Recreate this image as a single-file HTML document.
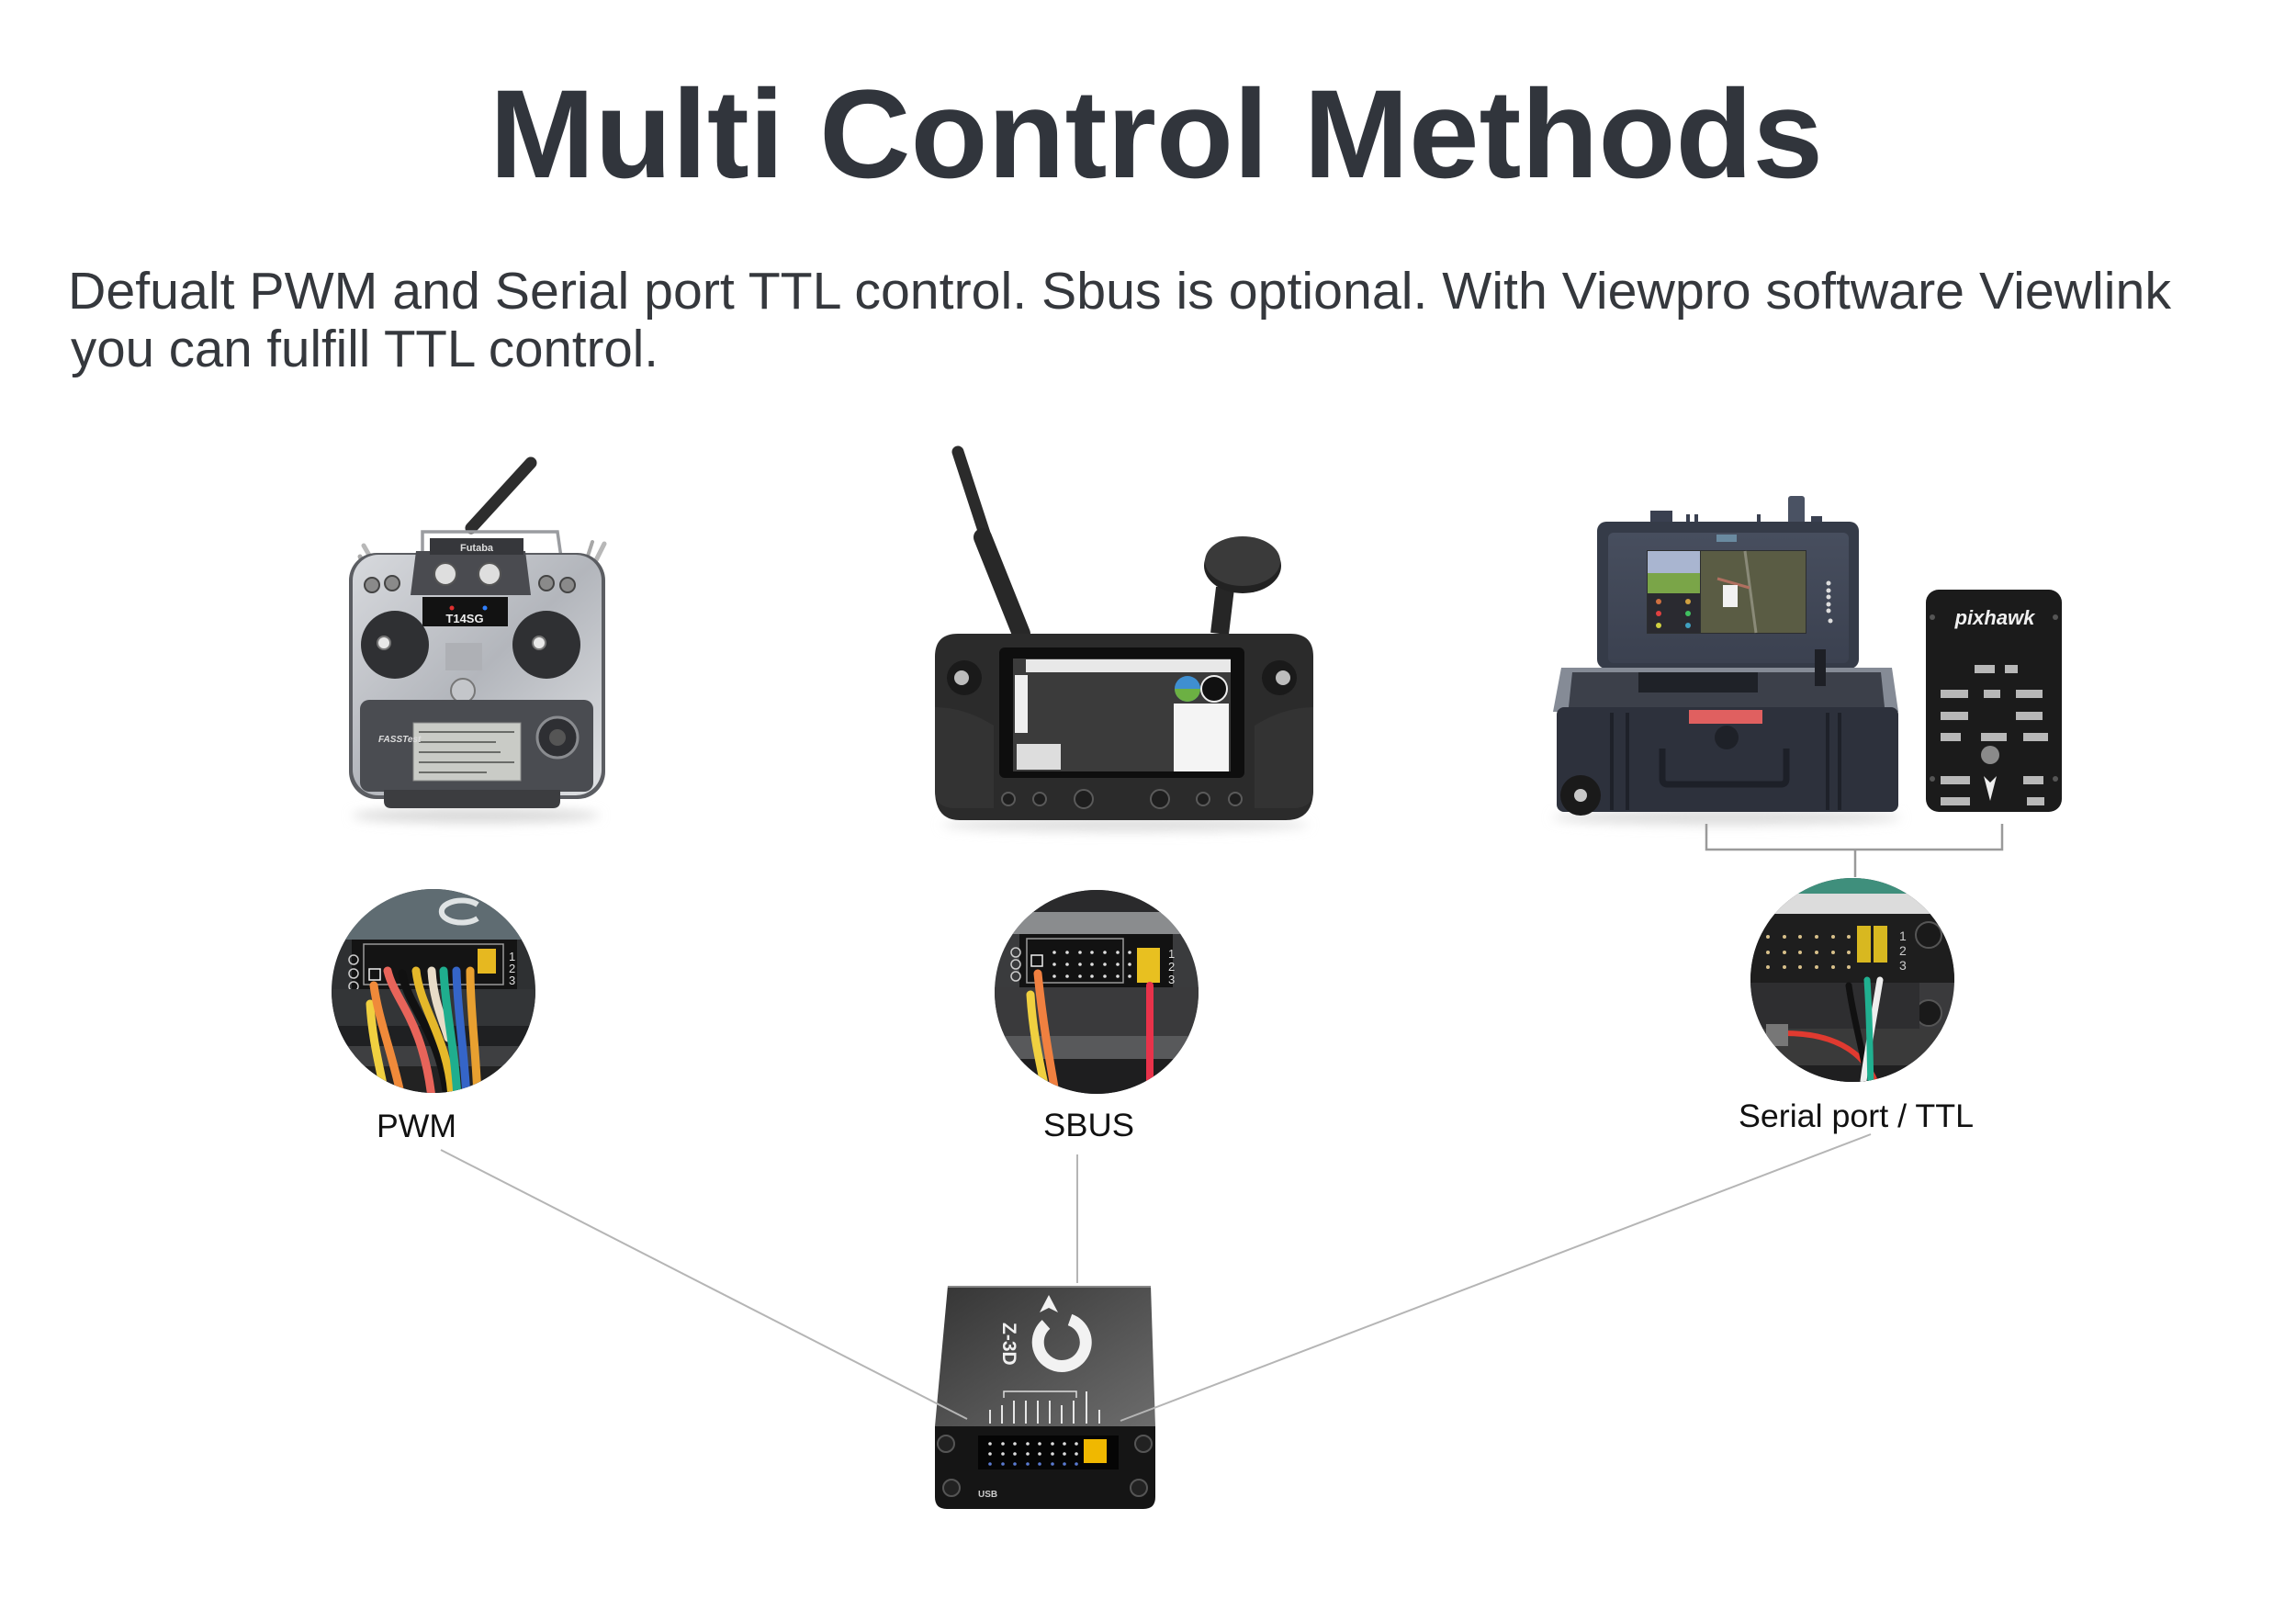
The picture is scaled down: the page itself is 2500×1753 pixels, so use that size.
<!DOCTYPE html>
<html><head><meta charset="utf-8"><style>
html,body{margin:0;padding:0;background:#fff;}
svg{display:block;}
text{font-family:"Liberation Sans",Arial,sans-serif;}
</style></head><body>
<svg xmlns="http://www.w3.org/2000/svg" width="2500" height="1753" viewBox="0 0 2500 1753">
<defs>
<filter id="blur" x="-20%" y="-200%" width="140%" height="500%"><feGaussianBlur stdDeviation="6"/></filter>
<linearGradient id="silver" x1="0" y1="0" x2="1" y2="1"><stop offset="0" stop-color="#d7d9dd"/><stop offset="0.5" stop-color="#b3b6bc"/><stop offset="1" stop-color="#dfe1e4"/></linearGradient>
<linearGradient id="ztop" x1="0" y1="0" x2="1" y2="1"><stop offset="0" stop-color="#353535"/><stop offset="1" stop-color="#6c6c6c"/></linearGradient>
<linearGradient id="lid" x1="0" y1="0" x2="0" y2="1"><stop offset="0" stop-color="#474e5e"/><stop offset="1" stop-color="#3b4150"/></linearGradient>
<clipPath id="c1"><circle cx="472" cy="1079" r="111"/></clipPath>
<clipPath id="c2"><circle cx="1194" cy="1080" r="111"/></clipPath>
<clipPath id="c3"><circle cx="2017" cy="1067" r="111"/></clipPath>
</defs>

<!-- Title -->
<text x="533" y="193" font-size="137" font-weight="bold" fill="#31353c" textLength="1452" lengthAdjust="spacingAndGlyphs">Multi Control Methods</text>
<text x="74" y="336" font-size="57" fill="#35383d" textLength="2290" lengthAdjust="spacingAndGlyphs">Defualt PWM and Serial port TTL control. Sbus is optional. With Viewpro software Viewlink</text>
<text x="77" y="399" font-size="57" fill="#35383d" textLength="640" lengthAdjust="spacingAndGlyphs">you can fulfill TTL control.</text>

<!-- ===== Futaba transmitter ===== -->
<ellipse cx="518" cy="888" rx="135" ry="8" fill="#d8d8d8" filter="url(#blur)"/>
<line x1="513" y1="575" x2="578" y2="504" stroke="#2d2d2d" stroke-width="13" stroke-linecap="round"/>
<path d="M460,612 V579 H607 L612,614" fill="none" stroke="#9a9ca0" stroke-width="3.5"/>
<line x1="392" y1="606" x2="404" y2="632" stroke="#a8a8a8" stroke-width="5" stroke-linecap="round"/>
<line x1="396" y1="594" x2="420" y2="636" stroke="#b8b8b8" stroke-width="5" stroke-linecap="round"/>
<line x1="658" y1="592" x2="640" y2="628" stroke="#b8b8b8" stroke-width="5" stroke-linecap="round"/>
<line x1="645" y1="590" x2="632" y2="630" stroke="#a8a8a8" stroke-width="4" stroke-linecap="round"/>
<rect x="380" y="602" width="279" height="268" rx="30" fill="#5b5d62"/>
<rect x="384" y="604" width="271" height="262" rx="28" fill="url(#silver)"/>
<path d="M453,600 H572 L578,648 H447 Z" fill="#4a4b50"/>
<rect x="468" y="586" width="102" height="18" fill="#36373b"/>
<text x="519" y="600" font-size="11" font-weight="bold" fill="#ddd" text-anchor="middle">Futaba</text>
<circle cx="485" cy="625" r="12" fill="#dedede" stroke="#555" stroke-width="2"/>
<circle cx="533" cy="625" r="12" fill="#dedede" stroke="#555" stroke-width="2"/>
<circle cx="405" cy="637" r="8" fill="#8a8a8a" stroke="#444" stroke-width="2"/>
<circle cx="427" cy="635" r="8" fill="#8a8a8a" stroke="#444" stroke-width="2"/>
<circle cx="595" cy="635" r="8" fill="#8a8a8a" stroke="#444" stroke-width="2"/>
<circle cx="618" cy="637" r="8" fill="#8a8a8a" stroke="#444" stroke-width="2"/>
<rect x="460" y="650" width="93" height="32" fill="#121212"/>
<circle cx="492" cy="662" r="2.5" fill="#e03030"/><circle cx="528" cy="662" r="2.5" fill="#3080ff"/>
<text x="506" y="678" font-size="13" font-weight="bold" fill="#eee" text-anchor="middle">T14SG</text>
<circle cx="430" cy="702" r="37" fill="#2f3033"/>
<circle cx="595" cy="702" r="37" fill="#2f3033"/>
<circle cx="418" cy="700" r="7" fill="#e8e8e8" stroke="#777" stroke-width="2"/>
<circle cx="587" cy="700" r="7" fill="#e8e8e8" stroke="#777" stroke-width="2"/>
<rect x="485" y="700" width="40" height="30" fill="#aeb0b5"/>
<circle cx="504" cy="752" r="13" fill="#c4c6ca" stroke="#777" stroke-width="2"/>
<rect x="392" y="762" width="254" height="100" rx="10" fill="#4a4c51"/>
<rect x="450" y="787" width="117" height="63" fill="#c9cbc6" stroke="#888" stroke-width="1"/>
<g stroke="#6a6c68" stroke-width="2"><line x1="456" y1="797" x2="560" y2="797"/><line x1="456" y1="808" x2="540" y2="808"/><line x1="456" y1="819" x2="545" y2="819"/><line x1="456" y1="830" x2="560" y2="830"/><line x1="456" y1="841" x2="530" y2="841"/></g>
<circle cx="607" cy="803" r="22" fill="#2e2f33" stroke="#8a8c90" stroke-width="3"/>
<circle cx="607" cy="803" r="9" fill="#555"/>
<text x="412" y="808" font-size="10" font-style="italic" font-weight="bold" fill="#ddd">FASSTest</text>
<path d="M418,860 H610 V872 Q610,880 602,880 H426 Q418,880 418,872 Z" fill="#3c3d40"/>

<!-- ===== Smart controller ===== -->
<ellipse cx="1225" cy="898" rx="200" ry="7" fill="#dcdcdc" filter="url(#blur)"/>
<line x1="1043" y1="492" x2="1074" y2="587" stroke="#2b2b2b" stroke-width="13" stroke-linecap="round"/>
<line x1="1070" y1="585" x2="1112" y2="690" stroke="#282828" stroke-width="20" stroke-linecap="round"/>
<line x1="1334" y1="640" x2="1328" y2="690" stroke="#262626" stroke-width="20"/>
<ellipse cx="1353" cy="616" rx="42" ry="30" fill="#222"/>
<ellipse cx="1353" cy="611" rx="41" ry="27" fill="#3a3a3a"/>
<path d="M1043,690 H1405 Q1430,690 1430,715 V860 Q1430,893 1400,893 H1045 Q1018,893 1018,860 V715 Q1018,690 1043,690 Z" fill="#2b2b2b"/>
<path d="M1018,770 Q1050,770 1082,790 V880 H1040 Q1018,880 1018,860 Z" fill="#333"/>
<path d="M1430,770 Q1398,770 1366,790 V880 H1408 Q1430,880 1430,860 Z" fill="#333"/>
<rect x="1088" y="705" width="267" height="142" rx="6" fill="#0e0e0e"/>
<rect x="1103" y="717" width="237" height="123" fill="#3b3b3b"/>
<rect x="1117" y="718" width="223" height="14" fill="#e8e8e8"/>
<rect x="1105" y="735" width="14" height="63" fill="#eeeeee"/>
<rect x="1278" y="766" width="60" height="74" fill="#f4f4f4"/>
<circle cx="1293" cy="750" r="14" fill="#3f8fd0"/><path d="M1279,750 A14,14 0 0 0 1307,750 Z" fill="#6cb043"/>
<circle cx="1322" cy="750" r="14" fill="#111" stroke="#eee" stroke-width="2"/>
<rect x="1107" y="810" width="48" height="28" fill="#dddddd"/>
<circle cx="1050" cy="738" r="19" fill="#1a1a1a"/><circle cx="1047" cy="738" r="8" fill="#bdbdbd"/>
<circle cx="1393" cy="738" r="19" fill="#1a1a1a"/><circle cx="1397" cy="738" r="8" fill="#bdbdbd"/>
<g fill="#1e1e1e" stroke="#5a5a5a" stroke-width="2">
<circle cx="1098" cy="870" r="7"/><circle cx="1132" cy="870" r="7"/><circle cx="1180" cy="870" r="10"/><circle cx="1263" cy="870" r="10"/><circle cx="1310" cy="870" r="7"/><circle cx="1345" cy="870" r="7"/></g>

<!-- ===== Ground station case ===== -->
<ellipse cx="1880" cy="890" rx="190" ry="8" fill="#dcdcdc" filter="url(#blur)"/>
<rect x="1797" y="556" width="24" height="16" fill="#3a4050"/>
<rect x="1947" y="540" width="18" height="32" rx="3" fill="#4a5263"/>
<rect x="1836" y="560" width="4" height="10" fill="#3a4050"/><rect x="1845" y="560" width="4" height="10" fill="#3a4050"/>
<rect x="1913" y="560" width="4" height="10" fill="#3a4050"/><rect x="1972" y="562" width="12" height="8" fill="#3a4050"/>
<rect x="1739" y="568" width="285" height="160" rx="10" fill="#353b48"/>
<rect x="1751" y="580" width="262" height="142" rx="6" fill="url(#lid)"/>
<rect x="1869" y="582" width="22" height="8" fill="#6a8aa0"/>
<rect x="1793" y="599" width="174" height="91" fill="#2c2e30"/>
<rect x="1794" y="600" width="57" height="24" fill="#a9b5d0"/>
<rect x="1794" y="624" width="57" height="22" fill="#7aa548"/>
<rect x="1794" y="646" width="57" height="43" fill="#2a2a30"/>
<g fill="#d07040"><circle cx="1806" cy="655" r="3"/><circle cx="1838" cy="655" r="3" fill="#d0a040"/><circle cx="1806" cy="668" r="3" fill="#e04040"/><circle cx="1838" cy="668" r="3" fill="#40c060"/><circle cx="1806" cy="681" r="3" fill="#d0d040"/><circle cx="1838" cy="681" r="3" fill="#40a0c0"/></g>
<rect x="1852" y="600" width="114" height="89" fill="#5a5c44"/>
<path d="M1900,600 L1912,689" stroke="#8a8a78" stroke-width="3"/>
<path d="M1870,630 L1905,640" stroke="#b07060" stroke-width="3"/>
<rect x="1876" y="637" width="16" height="24" fill="#f2f2f2"/>
<g fill="#ddd"><circle cx="1991" cy="635" r="2.5"/><circle cx="1991" cy="643" r="2.5"/><circle cx="1991" cy="650" r="2.5"/><circle cx="1991" cy="658" r="2.5"/><circle cx="1991" cy="665" r="2.5"/><circle cx="1993" cy="676" r="2.5"/></g>
<path d="M1700,727 H2060 L2067,775 H1691 Z" fill="#858b96"/>
<path d="M1712,732 H2048 L2052,770 H1708 Z" fill="#3c404a"/>
<rect x="1784" y="732" width="130" height="22" fill="#1f2228"/>
<rect x="1976" y="707" width="12" height="40" fill="#1e2026"/>
<rect x="1695" y="770" width="372" height="114" rx="8" fill="#2d313c"/>
<rect x="1839" y="773" width="80" height="15" fill="#e06060"/>
<g stroke="#1e2129" stroke-width="4"><line x1="1755" y1="776" x2="1755" y2="882"/><line x1="1772" y1="776" x2="1772" y2="882"/><line x1="1990" y1="776" x2="1990" y2="882"/><line x1="2003" y1="776" x2="2003" y2="882"/></g>
<path d="M1810,815 V848 Q1810,854 1816,854 H1939 Q1945,854 1945,848 V815" fill="none" stroke="#1d2028" stroke-width="7"/>
<circle cx="1880" cy="803" r="13" fill="#1e2128"/>
<circle cx="1721" cy="866" r="22" fill="#1a1a1a"/><circle cx="1721" cy="866" r="7" fill="#c8c8c8"/>

<!-- ===== Pixhawk ===== -->
<rect x="2097" y="642" width="148" height="242" rx="14" fill="#1b1b1b"/>
<text x="2172" y="680" font-size="22" font-weight="bold" font-style="italic" fill="#f0f0f0" text-anchor="middle">pixhawk</text>
<g fill="#555"><circle cx="2104" cy="672" r="3"/><circle cx="2238" cy="672" r="3"/><circle cx="2104" cy="848" r="3"/><circle cx="2238" cy="848" r="3"/></g>
<g fill="#b8b8b8">
<rect x="2150" y="724" width="22" height="9"/><rect x="2183" y="724" width="14" height="9"/>
<rect x="2113" y="751" width="30" height="9"/><rect x="2160" y="751" width="18" height="9"/><rect x="2195" y="751" width="29" height="9"/>
<rect x="2113" y="775" width="30" height="9"/><rect x="2195" y="775" width="29" height="9"/>
<rect x="2113" y="798" width="22" height="9"/><rect x="2157" y="798" width="28" height="9"/><rect x="2203" y="798" width="27" height="9"/>
<rect x="2113" y="845" width="32" height="9"/><rect x="2203" y="845" width="22" height="9"/>
<rect x="2113" y="868" width="32" height="9"/><rect x="2207" y="868" width="19" height="9"/></g>
<circle cx="2167" cy="822" r="10" fill="#8a8a8a"/>
<path d="M2160,845 L2167,872 L2174,845 L2167,852 Z" fill="#eee"/>

<!-- bracket -->
<path d="M1858,897 V925 H2180 V897 M2020,925 V955" fill="none" stroke="#9a9a9a" stroke-width="2.5"/>

<!-- ===== PWM circle ===== -->
<g clip-path="url(#c1)">
<rect x="350" y="960" width="250" height="240" fill="#2e3032"/>
<rect x="350" y="960" width="250" height="63" fill="#5f6c72"/>
<path d="M520,985 A22,12 0 1 0 520,1000" fill="none" stroke="#dfe3e4" stroke-width="6"/>
<rect x="383" y="1023" width="180" height="54" fill="#141414"/>
<rect x="396" y="1028" width="152" height="44" fill="none" stroke="#9a9a9a" stroke-width="1.5"/>
<rect x="402" y="1055" width="12" height="12" fill="none" stroke="#eee" stroke-width="1.5"/>
<g fill="none" stroke="#ccc" stroke-width="1.5"><circle cx="385" cy="1045" r="5"/><circle cx="385" cy="1060" r="5"/><circle cx="385" cy="1074" r="5"/></g>
<rect x="520" y="1033" width="20" height="27" fill="#e6b820"/>
<g font-size="13" fill="#ddd"><text x="554" y="1046">1</text><text x="554" y="1059">2</text><text x="554" y="1072">3</text><text x="520" y="1090">R T</text><text x="520" y="1104">X X</text></g>
<rect x="350" y="1077" width="250" height="40" fill="#333537"/>
<rect x="350" y="1117" width="250" height="22" fill="#1f2022"/>
<rect x="350" y="1139" width="250" height="22" fill="#3e3f41"/>
<rect x="350" y="1161" width="250" height="40" fill="#222"/>
<g fill="none" stroke-width="9" stroke-linecap="round">
<path d="M470,1057 C472,1090 482,1110 488,1130" stroke="#e8dcc8"/>
<path d="M422,1057 C430,1090 460,1110 470,1195" stroke="#e8645a"/>
<path d="M438,1060 C445,1100 478,1120 487,1195" stroke="#111"/>
<path d="M453,1057 C458,1100 488,1130 492,1195" stroke="#e5b82a"/>
<path d="M483,1057 C485,1100 495,1140 498,1195" stroke="#1fae8e"/>
<path d="M497,1057 C498,1100 505,1140 508,1195" stroke="#3565c8"/>
<path d="M512,1057 C512,1100 518,1140 520,1195" stroke="#e8a030"/>
<path d="M403,1093 C405,1130 413,1160 420,1195" stroke="#f0d040"/>
<path d="M407,1073 C412,1110 428,1150 437,1195" stroke="#f08a3a"/>
</g>
</g>

<!-- ===== SBUS circle ===== -->
<g clip-path="url(#c2)">
<rect x="1080" y="965" width="230" height="230" fill="#3a3b3d"/>
<rect x="1080" y="965" width="230" height="29" fill="#2a2a2c"/>
<rect x="1080" y="993" width="230" height="24" fill="#8a8c8e"/>
<rect x="1110" y="1017" width="167" height="58" fill="#121212"/>
<rect x="1118" y="1022" width="105" height="48" fill="none" stroke="#999" stroke-width="1.5"/>
<rect x="1123" y="1040" width="12" height="12" fill="none" stroke="#eee" stroke-width="1.5"/>
<g fill="none" stroke="#ccc" stroke-width="1.5"><circle cx="1106" cy="1037" r="5"/><circle cx="1106" cy="1050" r="5"/><circle cx="1106" cy="1063" r="5"/></g>
<g fill="#e0e0e0">
<circle cx="1148" cy="1037" r="1.8"/><circle cx="1162" cy="1037" r="1.8"/><circle cx="1176" cy="1037" r="1.8"/><circle cx="1189" cy="1037" r="1.8"/><circle cx="1203" cy="1037" r="1.8"/><circle cx="1217" cy="1037" r="1.8"/><circle cx="1230" cy="1037" r="1.8"/>
<circle cx="1148" cy="1050" r="1.8"/><circle cx="1162" cy="1050" r="1.8"/><circle cx="1176" cy="1050" r="1.8"/><circle cx="1189" cy="1050" r="1.8"/><circle cx="1203" cy="1050" r="1.8"/><circle cx="1217" cy="1050" r="1.8"/><circle cx="1230" cy="1050" r="1.8"/>
<circle cx="1148" cy="1063" r="1.8"/><circle cx="1162" cy="1063" r="1.8"/><circle cx="1176" cy="1063" r="1.8"/><circle cx="1189" cy="1063" r="1.8"/><circle cx="1203" cy="1063" r="1.8"/><circle cx="1217" cy="1063" r="1.8"/><circle cx="1230" cy="1063" r="1.8"/></g>
<rect x="1238" y="1032" width="25" height="38" fill="#e8c020"/>
<g font-size="13" fill="#ddd"><text x="1272" y="1043">1</text><text x="1272" y="1057">2</text><text x="1272" y="1071">3</text></g>
<rect x="1080" y="1075" width="230" height="55" fill="#3a3a3c"/>
<rect x="1080" y="1128" width="230" height="25" fill="#58595b"/>
<rect x="1080" y="1153" width="230" height="45" fill="#1e1e1f"/>
<g fill="none" stroke-linecap="round">
<path d="M1122,1083 C1125,1130 1133,1160 1140,1195" stroke="#f0d040" stroke-width="9"/>
<path d="M1130,1060 C1135,1110 1142,1150 1150,1195" stroke="#f08040" stroke-width="9"/>
<path d="M1252,1073 L1252,1195" stroke="#e8324a" stroke-width="8"/>
</g>
</g>

<!-- ===== Serial circle ===== -->
<g clip-path="url(#c3)">
<rect x="1900" y="950" width="235" height="235" fill="#3a3a3c"/>
<rect x="1900" y="950" width="235" height="23" fill="#3f8f7c"/>
<rect x="1900" y="973" width="235" height="22" fill="#dcdcdc"/>
<rect x="1900" y="995" width="230" height="75" fill="#1e1e1e"/>
<g fill="#d8c08a">
<circle cx="1925" cy="1020" r="2"/><circle cx="1943" cy="1020" r="2"/><circle cx="1960" cy="1020" r="2"/><circle cx="1978" cy="1020" r="2"/><circle cx="1996" cy="1020" r="2"/><circle cx="2013" cy="1020" r="2"/>
<circle cx="1925" cy="1037" r="2"/><circle cx="1943" cy="1037" r="2"/><circle cx="1960" cy="1037" r="2"/><circle cx="1978" cy="1037" r="2"/><circle cx="1996" cy="1037" r="2"/><circle cx="2013" cy="1037" r="2"/>
<circle cx="1925" cy="1053" r="2"/><circle cx="1943" cy="1053" r="2"/><circle cx="1960" cy="1053" r="2"/><circle cx="1978" cy="1053" r="2"/><circle cx="1996" cy="1053" r="2"/><circle cx="2013" cy="1053" r="2"/></g>
<rect x="2022" y="1008" width="15" height="40" fill="#d8b820"/>
<rect x="2040" y="1008" width="15" height="40" fill="#d8b820"/>
<g font-size="14" fill="#ccc"><text x="2068" y="1024">1</text><text x="2068" y="1040">2</text><text x="2068" y="1056">3</text></g>
<circle cx="2100" cy="1018" r="14" fill="#1a1a1a" stroke="#555" stroke-width="2"/>
<circle cx="2100" cy="1103" r="14" fill="#1a1a1a" stroke="#555" stroke-width="2"/>
<rect x="1900" y="1070" width="190" height="50" fill="#2e2e30"/>
<rect x="1900" y="1120" width="235" height="65" fill="#3a3a3a"/>
<rect x="1900" y="1160" width="235" height="25" fill="#1f1f20"/>
<path d="M1943,1125 C1990,1125 2030,1140 2045,1185" fill="none" stroke="#e03a30" stroke-width="6"/>
<rect x="1923" y="1115" width="24" height="24" fill="#777"/>
<g fill="none" stroke-width="7" stroke-linecap="round">
<path d="M2013,1073 C2018,1110 2030,1150 2035,1185" stroke="#111"/>
<path d="M2047,1067 C2040,1110 2032,1150 2028,1185" stroke="#eeeeee"/>
<path d="M2033,1067 C2036,1110 2036,1150 2037,1185" stroke="#20b090"/>
</g>
</g>

<!-- labels -->
<text x="410" y="1238" font-size="35" fill="#111" textLength="87" lengthAdjust="spacingAndGlyphs">PWM</text>
<text x="1136" y="1237" font-size="35" fill="#111" textLength="99" lengthAdjust="spacingAndGlyphs">SBUS</text>
<text x="1893" y="1227" font-size="35" fill="#111" textLength="256" lengthAdjust="spacingAndGlyphs">Serial port / TTL</text>

<!-- ===== Z-3D box ===== -->
<polygon points="1032,1400 1253,1400 1258,1553 1018,1553" fill="url(#ztop)"/>
<line x1="1032" y1="1401" x2="1253" y2="1401" stroke="#888" stroke-width="2"/>
<path d="M1018,1553 H1258 V1630 Q1258,1643 1245,1643 H1031 Q1018,1643 1018,1630 Z" fill="#151515"/>
<rect x="1065" y="1563" width="153" height="37" fill="#050505"/>
<g fill="#ddd">
<circle cx="1078" cy="1572" r="1.8"/><circle cx="1092" cy="1572" r="1.8"/><circle cx="1105" cy="1572" r="1.8"/><circle cx="1119" cy="1572" r="1.8"/><circle cx="1132" cy="1572" r="1.8"/><circle cx="1146" cy="1572" r="1.8"/><circle cx="1159" cy="1572" r="1.8"/><circle cx="1172" cy="1572" r="1.8"/>
<circle cx="1078" cy="1583" r="1.8"/><circle cx="1092" cy="1583" r="1.8"/><circle cx="1105" cy="1583" r="1.8"/><circle cx="1119" cy="1583" r="1.8"/><circle cx="1132" cy="1583" r="1.8"/><circle cx="1146" cy="1583" r="1.8"/><circle cx="1159" cy="1583" r="1.8"/><circle cx="1172" cy="1583" r="1.8"/>
<circle cx="1078" cy="1594" r="1.8" fill="#5a7ad0"/><circle cx="1092" cy="1594" r="1.8" fill="#5a7ad0"/><circle cx="1105" cy="1594" r="1.8" fill="#5a7ad0"/><circle cx="1119" cy="1594" r="1.8" fill="#5a7ad0"/><circle cx="1132" cy="1594" r="1.8" fill="#5a7ad0"/><circle cx="1146" cy="1594" r="1.8" fill="#5a7ad0"/><circle cx="1159" cy="1594" r="1.8" fill="#5a7ad0"/><circle cx="1172" cy="1594" r="1.8" fill="#5a7ad0"/></g>
<rect x="1180" y="1567" width="25" height="26" fill="#f0b800"/>
<g fill="#222" stroke="#555" stroke-width="2"><circle cx="1030" cy="1572" r="9"/><circle cx="1245" cy="1572" r="9"/><circle cx="1036" cy="1620" r="9"/><circle cx="1240" cy="1620" r="9"/></g>
<text x="1065" y="1630" font-size="10" font-weight="bold" fill="#ccc">USB</text>
<g stroke="#e6e6e6" stroke-width="2"><line x1="1078" y1="1535" x2="1078" y2="1550"/><line x1="1091" y1="1530" x2="1091" y2="1550"/><line x1="1104" y1="1525" x2="1104" y2="1550"/><line x1="1117" y1="1525" x2="1117" y2="1550"/><line x1="1130" y1="1525" x2="1130" y2="1550"/><line x1="1143" y1="1525" x2="1143" y2="1550"/><line x1="1156" y1="1530" x2="1156" y2="1550"/><line x1="1169" y1="1525" x2="1169" y2="1550"/><line x1="1183" y1="1515" x2="1183" y2="1550"/><line x1="1197" y1="1535" x2="1197" y2="1550"/></g>
<path d="M1093,1522 V1515 H1172 V1522" fill="none" stroke="#ddd" stroke-width="1.5"/>
<path d="M1139,1442 A26,26 0 1 0 1165,1437" fill="none" stroke="#f2f2f2" stroke-width="13"/>
<polygon points="1142,1410 1132,1429 1142,1424 1152,1429" fill="#f2f2f2"/>
<text transform="translate(1092,1440) rotate(90)" font-size="21" font-weight="bold" fill="#f0f0f0">Z-3D</text>

<!-- connector lines -->
<g stroke="#b5b5b5" stroke-width="2" fill="none">
<line x1="480" y1="1252" x2="1053" y2="1545"/>
<line x1="1173" y1="1257" x2="1173" y2="1397"/>
<line x1="2037" y1="1235" x2="1220" y2="1547"/>
</g>
</svg>
</body></html>
